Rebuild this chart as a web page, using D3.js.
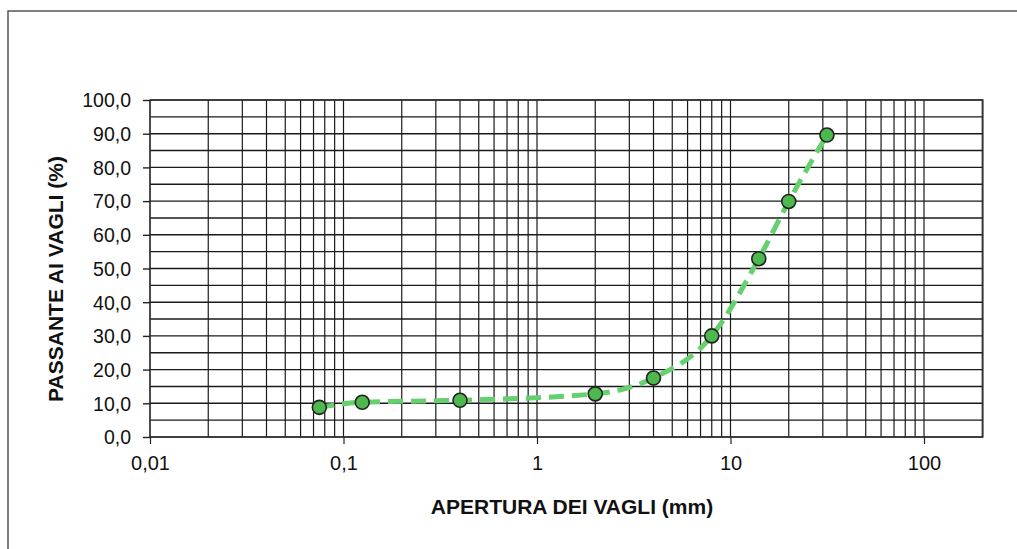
<!DOCTYPE html>
<html><head><meta charset="utf-8">
<script src="https://cdn.jsdelivr.net/npm/d3@7/dist/d3.min.js"></script>
<style>body{margin:0;background:#fff}svg{display:block}text{font-family:"Liberation Sans",Arial,sans-serif}</style>
</head><body><svg id="c" width="1017" height="549"></svg>
<script>
const sieveSizes = [0.075, 0.125, 0.4, 2, 4, 8, 14, 20, 31.5];
const passing = [8.8, 10.3, 10.9, 12.8, 17.5, 30.0, 52.9, 69.9, 89.6];
const xTickValues = [0.01, 0.1, 1, 10, 100];
const xTickLabels = ["0,01", "0,1", "1", "10", "100"];
const yTickValues = [0, 10, 20, 30, 40, 50, 60, 70, 80, 90, 100];

const svg = d3.select("#c");
const L = 150, R = 983, T = 100, B = 437;
const x = d3.scaleLog().domain([0.01, 0.01 * Math.pow(10, (R - L) / 193.5)]).range([L, R]);
const y = d3.scaleLinear().domain([0, 100]).range([B, T]);

svg.append("path").attr("d", `M8,549 V11 H1017`).attr("fill", "none").attr("stroke", "#555").attr("stroke-width", 1.5);

const g = svg.append("g");
const vLines = [];
for (let e = -2; e <= 2; e++) for (let m = 1; m <= 9; m++) { const v = m * Math.pow(10, e); if (v <= x.domain()[1]) vLines.push(v); }
g.selectAll(".v").data(vLines).join("line")
  .attr("x1", d => x(d)).attr("x2", d => x(d)).attr("y1", T).attr("y2", B)
  .attr("stroke", "#1a1a1a").attr("stroke-width", 1.2);
const hLines = d3.range(0, 101, 5);
g.selectAll(".h").data(hLines).join("line")
  .attr("x1", L).attr("x2", R).attr("y1", d => y(d)).attr("y2", d => y(d))
  .attr("stroke", "#1a1a1a").attr("stroke-width", 1.4);
g.append("rect").attr("x", L).attr("y", T).attr("width", R - L).attr("height", B - T)
  .attr("fill", "none").attr("stroke", "#333").attr("stroke-width", 1.2);

const yAxis = d3.axisLeft(y).tickValues(yTickValues).tickSize(7).tickFormat(d => d3.format(".1f")(d).replace(".", ","));
const ya = svg.append("g").attr("transform", `translate(${L},0)`).call(yAxis);
ya.select(".domain").remove();
ya.selectAll("line").attr("stroke", "#222").attr("stroke-width", 1.4);
ya.selectAll("text").attr("font-size", 19.5).attr("fill", "#111").attr("dx", "-9").attr("dy", "0.35em");

const xAxis = d3.axisBottom(x).tickValues(xTickValues).tickSize(7).tickFormat((d, i) => xTickLabels[i]);
const xa = svg.append("g").attr("transform", `translate(0,${B})`).call(xAxis);
xa.select(".domain").remove();
xa.selectAll("line").attr("stroke", "#222").attr("stroke-width", 1.2);
xa.selectAll("text").attr("font-size", 20).attr("fill", "#111").attr("y", 0).attr("dy", 0).attr("transform", "translate(0,33)");

svg.append("text").attr("x", 572).attr("y", 514).attr("text-anchor", "middle")
  .attr("font-size", 21).attr("font-weight", "bold").attr("fill", "#111").text("APERTURA DEI VAGLI (mm)");
svg.append("text").attr("transform", `translate(63,279) rotate(-90)`).attr("text-anchor", "middle")
  .attr("font-size", 21).attr("font-weight", "bold").attr("fill", "#111").text("PASSANTE AI VAGLI (%)");

const pts = sieveSizes.map((s, i) => [s, passing[i]]);
const line = d3.line().x(d => x(d[0])).y(d => y(d[1])).curve(d3.curveMonotoneX);
svg.append("path").datum(pts).attr("d", line).attr("fill", "none")
  .attr("stroke", "#66d06f").attr("stroke-width", 5).attr("stroke-dasharray", "15,8");
svg.selectAll(".pt").data(pts).join("circle")
  .attr("cx", d => x(d[0])).attr("cy", d => y(d[1])).attr("r", 7)
  .attr("fill", "#4cb84e").attr("stroke", "#222").attr("stroke-width", 1.6);
</script></body></html>
